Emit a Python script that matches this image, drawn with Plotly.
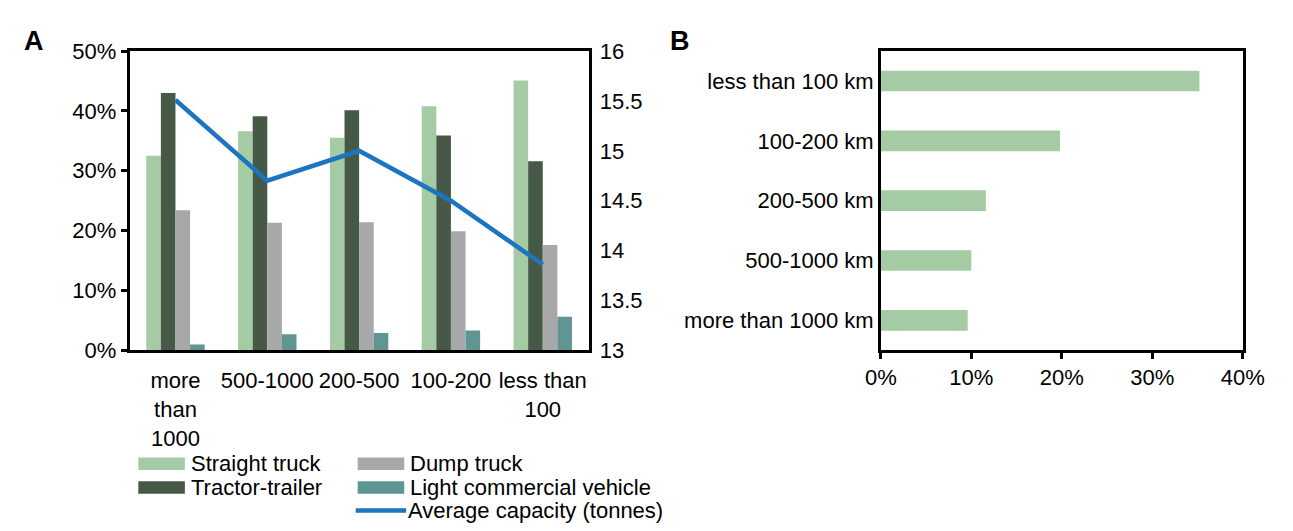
import plotly.graph_objects as go

# ---- Panel A: share of truck types by haul distance (km) ----
distance_cats = ["more<br>than<br>1000", "500-1000", "200-500", "100-200", "less than<br>100"]
straight_truck = [32.5, 36.6, 35.5, 40.8, 45.1]
tractor_trailer = [43.0, 39.1, 40.1, 35.9, 31.6]
dump_truck = [23.4, 21.3, 21.4, 19.9, 17.6]
light_commercial = [0.95, 2.7, 2.9, 3.3, 5.6]
avg_capacity = [15.51, 14.70, 15.00, 14.50, 13.86]

# ---- Panel B: share of trips by haul distance ----
trip_cats = ["more than 1000 km", "500-1000 km", "200-500 km", "100-200 km", "less than 100 km"]
trip_share = [9.6, 10.0, 11.6, 19.8, 35.2]

FONT = "Liberation Sans, Arial, sans-serif"
FS = 22
W, H = 1293, 531

C_STRAIGHT = "#a4cba4"
C_TRACTOR = "#465947"
C_DUMP = "#a8a8a8"
C_LIGHT = "#5f9592"
C_LINE = "#1b75c1"


def px_x(x):
    return x / W


def px_y(y):
    return 1 - y / H


fig = go.Figure()

bar_series = [
    ("Straight truck", straight_truck, C_STRAIGHT),
    ("Tractor-trailer", tractor_trailer, C_TRACTOR),
    ("Dump truck", dump_truck, C_DUMP),
    ("Light commercial vehicle", light_commercial, C_LIGHT),
]
for name, vals, col in bar_series:
    fig.add_trace(go.Bar(
        x=distance_cats, y=[v / 100 for v in vals], name=name,
        marker=dict(color=col, line=dict(width=0)),
        xaxis="x", yaxis="y", showlegend=False,
    ))

fig.add_trace(go.Scatter(
    x=distance_cats, y=avg_capacity, name="Average capacity (tonnes)",
    mode="lines", line=dict(color=C_LINE, width=4.5),
    xaxis="x", yaxis="y2", showlegend=False,
))

fig.add_trace(go.Bar(
    y=trip_cats, x=[v / 100 for v in trip_share], orientation="h",
    marker=dict(color=C_STRAIGHT, line=dict(width=0)),
    xaxis="x3", yaxis="y3", showlegend=False, width=0.345,
))

tick_font = dict(family=FONT, size=FS, color="black")
axis_common = dict(
    showline=True, linecolor="black", linewidth=2.5, showgrid=False,
    zeroline=False, tickfont=tick_font,
)

y_dom = [px_y(355), px_y(41)]

fig.update_layout(
    width=W, height=H,
    margin=dict(l=0, r=0, t=0, b=0),
    paper_bgcolor="white", plot_bgcolor="white",
    font=dict(family=FONT, size=FS, color="black"),
    barmode="group", bargap=0.364, bargroupgap=0,
    xaxis=dict(domain=[px_x(117), px_x(590)], mirror=True, ticks="",
               ticklabelstandoff=9, anchor="y", **axis_common),
    yaxis=dict(domain=y_dom, range=[0, 0.5], dtick=0.1, tickformat=".0%",
               ticks="outside", ticklen=6, tickwidth=2.5, tickcolor="black",
               mirror=True, anchor="x", **axis_common),
    yaxis2=dict(range=[13, 16], dtick=0.5, overlaying="y", side="right",
                anchor="x", ticks="", showline=False, showgrid=False, zeroline=False,
                tickfont=tick_font, ticklabelstandoff=10),
    xaxis3=dict(domain=[px_x(891), px_x(1264)], range=[0, 0.4], dtick=0.1,
                tickformat=".0%", ticks="outside", ticklen=6, tickwidth=2.5,
                tickcolor="black", mirror=True, anchor="y3", **axis_common),
    yaxis3=dict(domain=y_dom, ticks="", mirror=True, anchor="x3",
                categoryorder="array", categoryarray=trip_cats, **axis_common),
)

# Panel letters
for letter, x in (("A", 6), ("B", 672)):
    fig.add_annotation(text=f"<b>{letter}</b>", x=px_x(x), y=px_y(13), xref="paper",
                       yref="paper", xanchor="left", yanchor="top", showarrow=False,
                       font=dict(family=FONT, size=27, color="black"))

# Legend for panel A: wide swatches in two columns
legend_items = [
    ("Straight truck", C_STRAIGHT, 126, 474, "bar"),
    ("Tractor-trailer", C_TRACTOR, 126, 499, "bar"),
    ("Dump truck", C_DUMP, 352, 474, "bar"),
    ("Light commercial vehicle", C_LIGHT, 352, 499, "bar"),
    ("Average capacity (tonnes)", C_LINE, 350, 523, "line"),
]
for label, col, x0, yc, kind in legend_items:
    if kind == "bar":
        fig.add_shape(type="rect", xref="paper", yref="paper",
                      x0=px_x(x0), x1=px_x(x0 + 48), y0=px_y(yc - 6.5), y1=px_y(yc + 6.5),
                      fillcolor=col, line=dict(width=0))
    else:
        fig.add_shape(type="line", xref="paper", yref="paper",
                      x0=px_x(x0), x1=px_x(x0 + 52), y0=px_y(yc), y1=px_y(yc),
                      line=dict(color=col, width=4.5))
    fig.add_annotation(text=label, x=px_x(x0 + 52), y=px_y(yc), xref="paper", yref="paper",
                       xanchor="left", yanchor="middle", showarrow=False,
                       font=dict(family=FONT, size=FS, color="black"))

fig.write_html("out.html")
